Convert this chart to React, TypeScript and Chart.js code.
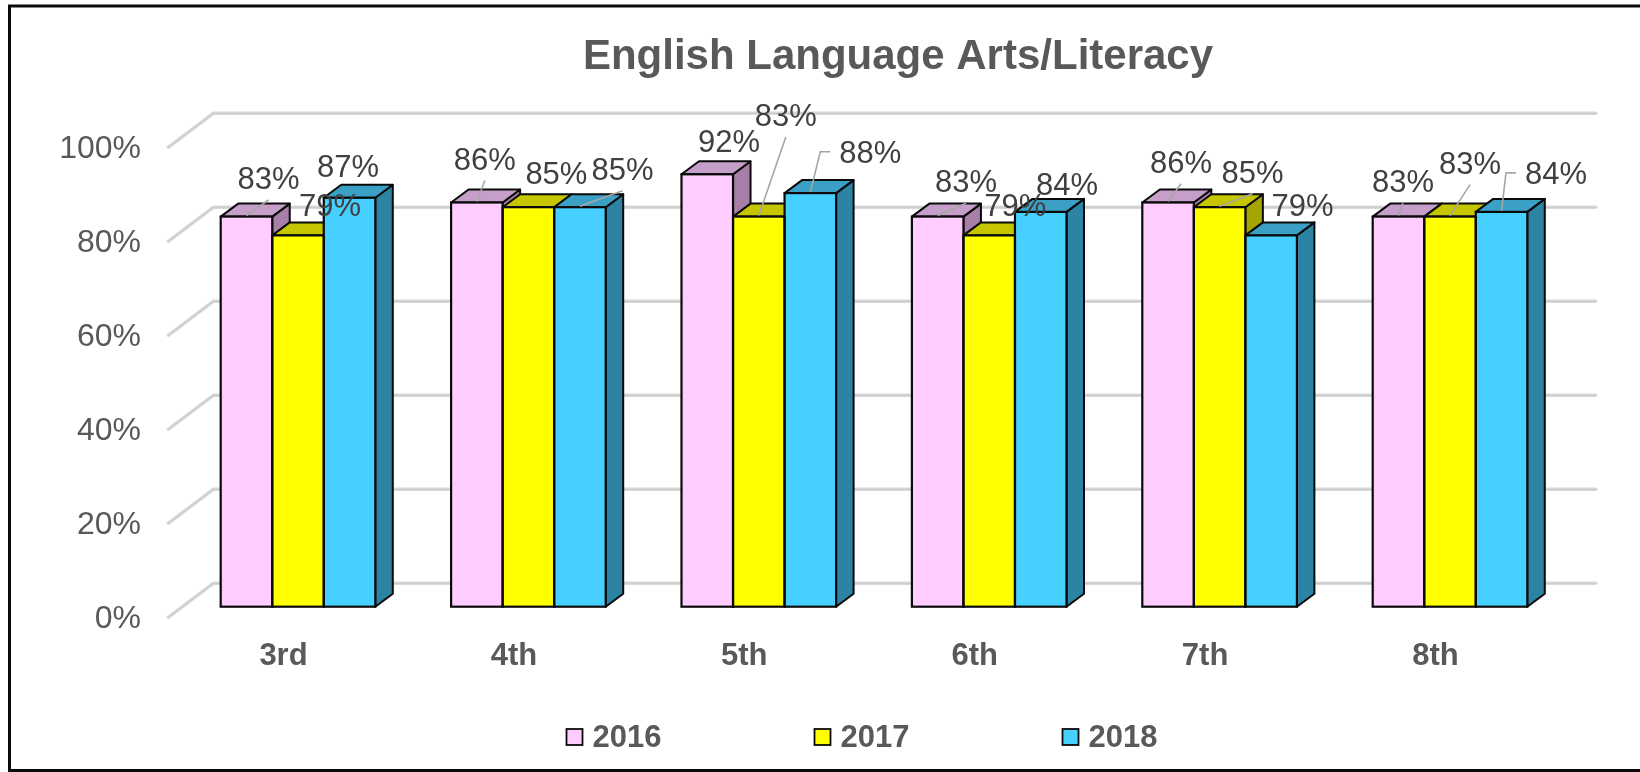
import React, { useEffect, useRef } from "react";
import { Chart, registerables } from "chart.js";

Chart.register(...registerables);

// ---- data ----
const categories = ["3rd", "4th", "5th", "6th", "7th", "8th"];
const seriesNames = ["2016", "2017", "2018"];
const values2016 = [83, 86, 92, 83, 86, 83];
const values2017 = [79, 85, 83, 79, 85, 83];
const values2018 = [87, 85, 88, 84, 79, 84];
const yTicks = [0, 20, 40, 60, 80, 100];
const titleText = "English Language Arts/Literacy";

// ---- styling ----
const frontColors = ["#FFCCFF", "#FFFF00", "#47CFFF"];
const topColors = ["#C59FC9", "#C6C600", "#3AA0C6"];
const sideColors = ["#A87FA8", "#A5A500", "#2C83A3"];

// data-label placement (offset from bar front-top centre, px) and leader type
const labelOffsets2016 = [[22, -38.6, 1], [8, -44, 1], [21.7, -33, 0], [28.3, -35.3, 1], [13, -40.8, 1], [4.5, -35.6, 1]];
const labelOffsets2017 = [[32, -30.4, 0], [28, -34, 0], [27, -101.6, 1], [26, -30, 0], [33, -35.5, 1], [20, -54, 1]];
const labelOffsets2018 = [[-1.5, -31.8, 0], [42.6, -38.5, 1], [60, -41.4, 2], [26.3, -28, 0], [31.4, -30.7, 0], [54.5, -39, 2]];
const labelOffsets = [labelOffsets2016, labelOffsets2017, labelOffsets2018];

const FRONT = { dx: -14.5, dy: 10.6 };
const BACK = { dx: 30.5, dy: -23.4 };
const DEPTH = { dx: 17.5, dy: -13 };

const FONT = '"Liberation Sans", Arial, Helvetica, sans-serif';
const GRAY = "#595959";

function barGeom(el: any) {
  const p = el.getProps(["x", "y", "base", "width"], true);
  return { left: p.x - p.width / 2, right: p.x + p.width / 2, top: p.y, base: p.base, cx: p.x };
}

function poly(ctx: CanvasRenderingContext2D, pts: number[][], fill: string) {
  ctx.beginPath();
  ctx.moveTo(pts[0][0], pts[0][1]);
  for (let i = 1; i < pts.length; i++) ctx.lineTo(pts[i][0], pts[i][1]);
  ctx.closePath();
  ctx.fillStyle = fill;
  ctx.fill();
  ctx.stroke();
}

const threeDPlugin = {
  id: "threeD",
  beforeDraw(chart: any) {
    const ctx: CanvasRenderingContext2D = chart.ctx;
    const { left, right } = chart.chartArea;
    const ys = chart.scales.y;
    ctx.save();
    ctx.fillStyle = "#ffffff";
    ctx.fillRect(0, 0, chart.width, chart.height);
    // walls gridlines
    ctx.lineCap = "round";
    ctx.lineJoin = "round";
    for (const t of yTicks) {
      const py = ys.getPixelForValue(t);
      const path = () => {
        ctx.beginPath();
        ctx.moveTo(left + FRONT.dx, py + FRONT.dy);
        ctx.lineTo(left + BACK.dx, py + BACK.dy);
        ctx.lineTo(right + BACK.dx, py + BACK.dy);
      };
      ctx.strokeStyle = "#d9d9d9";
      ctx.lineWidth = 3.5;
      path();
      ctx.stroke();
      ctx.strokeStyle = "#cdcdcd";
      ctx.lineWidth = 1.2;
      path();
      ctx.stroke();
    }
    // y tick labels
    ctx.fillStyle = GRAY;
    ctx.font = `32px ${FONT}`;
    ctx.textAlign = "right";
    ctx.textBaseline = "alphabetic";
    for (const t of yTicks) {
      const py = ys.getPixelForValue(t) + FRONT.dy;
      ctx.fillText(`${t}%`, 141, py + 0.358 * 31);
    }
    // category labels
    const xs = chart.scales.x;
    ctx.font = `bold 31px ${FONT}`;
    ctx.textAlign = "center";
    categories.forEach((c, i) => {
      const px = xs.getPixelForValue(i) + FRONT.dx;
      ctx.fillText(c, px, 665);
    });
    ctx.restore();
  },
  beforeDatasetsDraw(chart: any) {
    const ctx: CanvasRenderingContext2D = chart.ctx;
    ctx.save();
    ctx.strokeStyle = "#0a0a0a";
    ctx.lineWidth = 2;
    ctx.lineJoin = "round";
    for (let i = 0; i < categories.length; i++) {
      for (let d = 0; d < seriesNames.length; d++) {
        const el = chart.getDatasetMeta(d).data[i];
        if (!el) continue;
        const g = barGeom(el);
        // side face
        poly(ctx, [
          [g.right, g.top],
          [g.right + DEPTH.dx, g.top + DEPTH.dy],
          [g.right + DEPTH.dx, g.base + DEPTH.dy],
          [g.right, g.base],
        ], sideColors[d]);
        // top face
        poly(ctx, [
          [g.left, g.top],
          [g.right, g.top],
          [g.right + DEPTH.dx, g.top + DEPTH.dy],
          [g.left + DEPTH.dx, g.top + DEPTH.dy],
        ], topColors[d]);
      }
    }
    ctx.restore();
  },
  afterDatasetsDraw(chart: any) {
    const ctx: CanvasRenderingContext2D = chart.ctx;
    ctx.save();
    // front outlines
    ctx.strokeStyle = "#0a0a0a";
    ctx.lineWidth = 2.2;
    for (let d = 0; d < seriesNames.length; d++) {
      chart.getDatasetMeta(d).data.forEach((el: any) => {
        const g = barGeom(el);
        ctx.strokeRect(g.left, g.top, g.right - g.left, g.base - g.top);
      });
    }
    // data labels with leader lines
    ctx.font = `31px ${FONT}`;
    for (let d = 0; d < seriesNames.length; d++) {
      const vals = chart.data.datasets[d].data as number[];
      chart.getDatasetMeta(d).data.forEach((el: any, i: number) => {
        const g = barGeom(el);
        const [ox, oy, leader] = labelOffsets[d][i];
        const lx = g.cx + ox;
        const ly = g.top + oy;
        const txt = `${vals[i]}%`;
        const hw = ctx.measureText(txt).width / 2;
        ctx.strokeStyle = "#a6a6a6";
        ctx.lineWidth = 1.6;
        if (leader === 1) {
          ctx.beginPath();
          ctx.moveTo(g.cx, g.top - 1);
          ctx.lineTo(lx, ly + 22);
          ctx.stroke();
        } else if (leader === 2) {
          ctx.beginPath();
          ctx.moveTo(g.cx, g.top - 1);
          ctx.lineTo(lx - hw - 19, ly);
          ctx.lineTo(lx - hw - 9, ly);
          ctx.stroke();
        }
        ctx.fillStyle = "#404040";
        ctx.textAlign = "center";
        ctx.textBaseline = "alphabetic";
        ctx.fillText(txt, lx, ly + 0.358 * 31);
      });
    }
    ctx.restore();
  },
  afterDraw(chart: any) {
    const ctx: CanvasRenderingContext2D = chart.ctx;
    ctx.save();
    // title
    ctx.fillStyle = GRAY;
    ctx.font = `bold 42px ${FONT}`;
    ctx.textAlign = "center";
    ctx.textBaseline = "alphabetic";
    ctx.fillText(titleText, 898, 69);
    // legend
    const legendX0 = 566.5;
    const legendStep = 248;
    ctx.font = `bold 31px ${FONT}`;
    ctx.textAlign = "left";
    seriesNames.forEach((s, k) => {
      const bx = legendX0 + k * legendStep;
      ctx.fillStyle = frontColors[k];
      ctx.fillRect(bx, 729, 16, 16);
      ctx.strokeStyle = "#0a0a0a";
      ctx.lineWidth = 1.8;
      ctx.strokeRect(bx, 729, 16, 16);
      ctx.fillStyle = GRAY;
      ctx.fillText(s, bx + 26, 747);
    });
    // outer border
    ctx.strokeStyle = "#0a0a0a";
    ctx.lineWidth = 3;
    ctx.beginPath();
    ctx.moveTo(1650, 6);
    ctx.lineTo(9.5, 6);
    ctx.lineTo(9.5, 770.5);
    ctx.lineTo(1650, 770.5);
    ctx.stroke();
    ctx.restore();
  },
};

export default function App() {
  const canvasRef = useRef<HTMLCanvasElement | null>(null);

  useEffect(() => {
    if (!canvasRef.current) return;
    const chart = new Chart(canvasRef.current, {
      type: "bar",
      data: {
        labels: categories,
        datasets: [
          { label: seriesNames[0], data: values2016, backgroundColor: frontColors[0], borderWidth: 0 },
          { label: seriesNames[1], data: values2017, backgroundColor: frontColors[1], borderWidth: 0 },
          { label: seriesNames[2], data: values2018, backgroundColor: frontColors[2], borderWidth: 0 },
        ],
      },
      options: {
        animation: false,
        responsive: false,
        devicePixelRatio: 1,
        layout: { padding: { left: 182.8, right: 74.8, top: 136.7, bottom: 165.3 } },
        datasets: { bar: { categoryPercentage: 0.671, barPercentage: 1 } },
        plugins: {
          legend: { display: false },
          title: { display: false },
          tooltip: { enabled: false },
        },
        scales: {
          x: { display: false, grid: { display: false } },
          y: { display: false, min: 0, max: 100, ticks: { stepSize: 20 } },
        },
      },
      plugins: [threeDPlugin],
    } as any);
    return () => chart.destroy();
  }, []);

  return (
    <div style={{ position: "absolute", left: 0, top: 0, width: 1640, height: 772, background: "#fff" }}>
      <canvas ref={canvasRef} width={1640} height={772} style={{ display: "block" }} />
    </div>
  );
}
